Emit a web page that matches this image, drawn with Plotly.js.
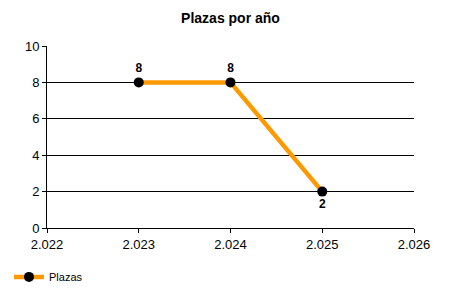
<!DOCTYPE html>
<html>
<head>
<meta charset="utf-8">
<script src="https://cdn.plot.ly/plotly-3.0.1.min.js"></script>
<style>html,body{margin:0;padding:0;background:#fff;}#chart{width:450px;height:300px;}</style>
</head>
<body>
<div id="chart"></div>
<script>
const years = [2023, 2024, 2025];
const plazas = [8, 8, 2];
const labelPositions = ["top center", "top center", "bottom center"];
const seriesName = "Plazas";
const chartTitle = "Plazas por año";

const trace = {
  x: years,
  y: plazas,
  name: seriesName,
  type: "scatter",
  mode: "lines+markers+text",
  line: {color: "#FF9900", width: 4.5},
  marker: {color: "#000000", size: 10},
  text: plazas.map(String),
  textposition: labelPositions,
  textfont: {family: "Liberation Sans, Arial, sans-serif", size: 12, color: "#000", weight: "bold"},
  cliponaxis: false
};

const layout = {
  width: 450, height: 300,
  margin: {l: 47, r: 36, t: 46, b: 72, autoexpand: false},
  paper_bgcolor: "#fff", plot_bgcolor: "#fff",
  separators: ",.",
  font: {family: "Liberation Sans, Arial, sans-serif", size: 13, color: "#000"},
  title: {text: "<b>" + chartTitle + "</b>", x: 0.5, xref: "paper", y: 0.94, yref: "container", yanchor: "middle",
          font: {size: 14, color: "#000", family: "Liberation Sans, Arial, sans-serif"}},
  xaxis: {range: [2022, 2026], dtick: 1, tick0: 2022, tickformat: ",d", showgrid: false, automargin: false,
          showline: true, linecolor: "#000", linewidth: 1, ticks: "outside", ticklen: 4, tickcolor: "#000",
          zeroline: false, tickfont: {size: 13, color: "#000"}},
  yaxis: {range: [0, 10], dtick: 2, showgrid: true, gridcolor: "#000", gridwidth: 1, automargin: false,
          showline: true, linecolor: "#000", linewidth: 1, ticks: "outside", ticklen: 4, tickcolor: "#000",
          zeroline: false, tickfont: {size: 13, color: "#000"}},
  showlegend: true,
  legend: {xref: "container", yref: "container", x: 0.02, y: 0.077, xanchor: "left", yanchor: "middle",
           font: {size: 11, color: "#000"}, bgcolor: "rgba(0,0,0,0)"}
};

Plotly.newPlot("chart", [trace], layout, {displayModeBar: false, staticPlot: true});
</script>
</body>
</html>
